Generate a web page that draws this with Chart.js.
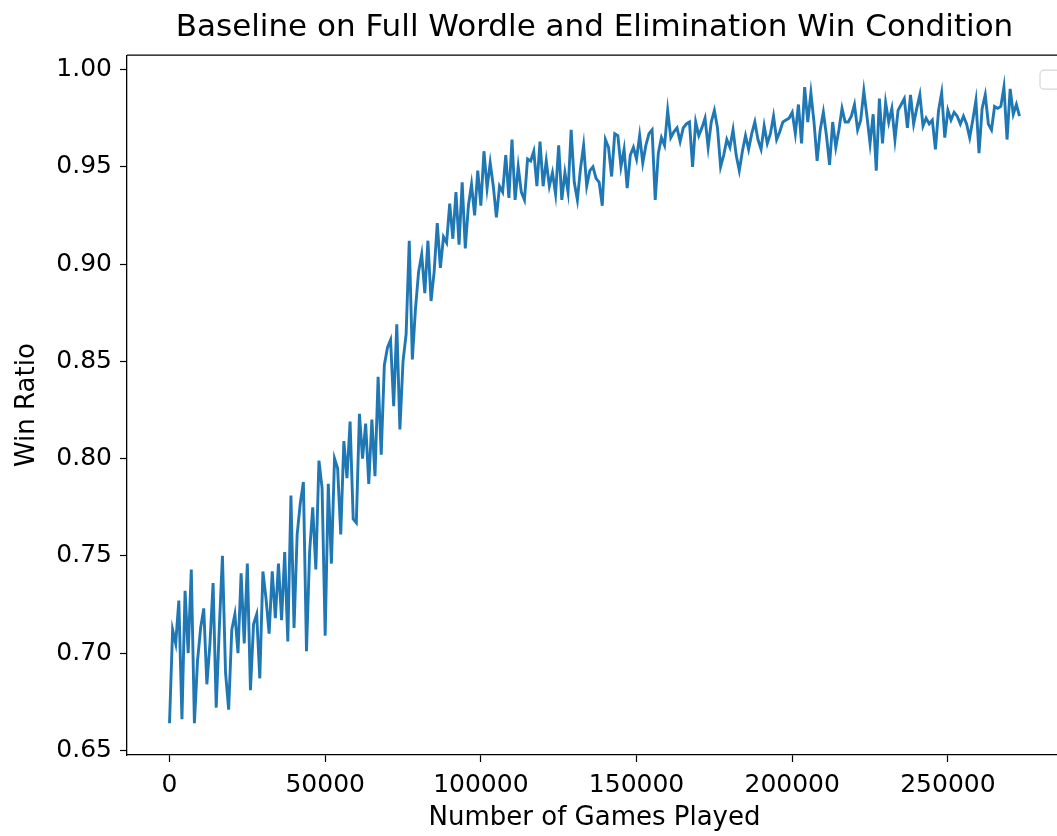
<!DOCTYPE html>
<html>
<head>
<meta charset="utf-8">
<script src="https://cdn.jsdelivr.net/npm/chart.js@4.4.1/dist/chart.umd.min.js"></script>
<style>
  html, body { margin: 0; padding: 0; background: #fff; overflow: hidden; }
  #wrap { width: 1075px; height: 836px; }
</style>
</head>
<body>
<div id="wrap"><canvas id="winChart" width="1075" height="836"></canvas></div>
<script>
// games played, one sample every 1000 games
var gameStep = 1000;

// win ratio, 0 .. 273000 games
var winRatio = [
  0.664, 0.712, 0.705, 0.727, 0.666, 0.732, 0.700, 0.743, 0.664, 0.696,
  0.713, 0.723, 0.684, 0.705, 0.736, 0.672, 0.713, 0.750, 0.690, 0.671,
  0.712, 0.720, 0.700, 0.741, 0.705, 0.746, 0.681, 0.715, 0.720, 0.687,
  0.742, 0.728, 0.710, 0.742, 0.718, 0.746, 0.717, 0.752, 0.706, 0.781,
  0.713, 0.761, 0.777, 0.788, 0.701, 0.752, 0.775, 0.743, 0.799, 0.785,
  0.709, 0.787, 0.746, 0.800, 0.795, 0.761, 0.809, 0.790, 0.819, 0.769,
  0.767, 0.823, 0.800, 0.818, 0.787, 0.820, 0.791, 0.842, 0.802, 0.848,
  0.857, 0.861, 0.827, 0.869, 0.815, 0.850, 0.864, 0.912, 0.851, 0.877,
  0.896, 0.905, 0.885, 0.912, 0.881, 0.896, 0.921, 0.898, 0.914, 0.911,
  0.931, 0.913, 0.937, 0.910, 0.942, 0.908, 0.930, 0.941, 0.925, 0.948,
  0.930, 0.958, 0.939, 0.952, 0.940, 0.924, 0.940, 0.937, 0.956, 0.934,
  0.964, 0.933, 0.950, 0.937, 0.933, 0.954, 0.953, 0.958, 0.940, 0.963,
  0.940, 0.953, 0.940, 0.947, 0.936, 0.961, 0.933, 0.947, 0.937, 0.969,
  0.942, 0.933, 0.949, 0.961, 0.940, 0.948, 0.950, 0.944, 0.942, 0.930,
  0.964, 0.960, 0.945, 0.967, 0.966, 0.950, 0.959, 0.939, 0.956, 0.960,
  0.954, 0.966, 0.952, 0.961, 0.967, 0.969, 0.933, 0.957, 0.965, 0.961,
  0.979, 0.965, 0.968, 0.970, 0.963, 0.970, 0.972, 0.973, 0.950, 0.973,
  0.966, 0.970, 0.975, 0.960, 0.973, 0.979, 0.970, 0.950, 0.956, 0.964,
  0.960, 0.969, 0.956, 0.948, 0.958, 0.966, 0.959, 0.967, 0.973, 0.964,
  0.959, 0.971, 0.962, 0.967, 0.976, 0.964, 0.968, 0.973, 0.974, 0.975,
  0.978, 0.967, 0.982, 0.962, 0.991, 0.973, 0.988, 0.973, 0.953, 0.969,
  0.978, 0.966, 0.951, 0.973, 0.960, 0.969, 0.980, 0.973, 0.973, 0.976,
  0.982, 0.969, 0.974, 0.989, 0.976, 0.962, 0.977, 0.948, 0.985, 0.962,
  0.983, 0.973, 0.980, 0.964, 0.979, 0.982, 0.985, 0.970, 0.987, 0.972,
  0.980, 0.987, 0.971, 0.975, 0.972, 0.974, 0.959, 0.979, 0.988, 0.965,
  0.979, 0.974, 0.978, 0.976, 0.972, 0.976, 0.972, 0.965, 0.974, 0.984,
  0.957, 0.980, 0.987, 0.972, 0.969, 0.981, 0.980, 0.981, 0.991, 0.964,
  0.990, 0.977, 0.982, 0.976
];

var xTickValues = [0, 50000, 100000, 150000, 200000, 250000];
var yTickValues = [0.65, 0.70, 0.75, 0.80, 0.85, 0.90, 0.95, 1.00];

var chartTitle = 'Baseline on Full Wordle and Elimination Win Condition';
var xTitle = 'Number of Games Played';
var yTitle = 'Win Ratio';

var points = [];
for (var i = 0; i < winRatio.length; i++) {
  points.push({ x: i * gameStep, y: winRatio[i] });
}

// matplotlib style 5% margins
var xLast = (winRatio.length - 1) * gameStep;
var yMin = Math.min.apply(null, winRatio);
var yMax = Math.max.apply(null, winRatio);
var xPad = xLast * 0.05;
var yPad = (yMax - yMin) * 0.05;

var fontFamily = '"DejaVu Sans", sans-serif';

// top/right spines plus the empty legend box
var frame = {
  id: 'frame',
  afterDraw: function(chart) {
    var a = chart.chartArea;
    var ctx = chart.ctx;
    ctx.save();
    ctx.strokeStyle = '#000';
    ctx.lineWidth = 1.3;
    ctx.beginPath();
    ctx.moveTo(a.left, a.top);
    ctx.lineTo(a.right, a.top);
    ctx.lineTo(a.right, a.bottom);
    ctx.stroke();

    ctx.strokeStyle = '#d6d6d6';
    ctx.lineWidth = 1.2;
    ctx.beginPath();
    ctx.roundRect(a.right - 22, a.top + 15, 20, 19, 4);
    ctx.stroke();
    ctx.restore();
  }
};

var ctx = document.getElementById('winChart').getContext('2d');
var myChart = new Chart(ctx, {
  type: 'line',
  data: {
    datasets: [{
      data: points,
      borderColor: '#1f77b4',
      borderWidth: 2.9,
      pointRadius: 0,
      tension: 0,
      fill: false
    }]
  },
  options: {
    responsive: false,
    animation: false,
    layout: { padding: { left: 0, right: 13, top: 0, bottom: 0 } },
    plugins: {
      legend: { display: false },
      tooltip: { enabled: false },
      title: {
        display: true,
        fullSize: false,
        text: chartTitle,
        color: '#000',
        font: { family: fontFamily, size: 31, weight: 'normal' },
        padding: { top: 9, bottom: 9 }
      }
    },
    scales: {
      x: {
        type: 'linear',
        min: -xPad,
        max: xLast + xPad,
        afterBuildTicks: function(scale) {
          scale.ticks = xTickValues.map(function(v) { return { value: v }; });
        },
        afterFit: function(scale) { scale.height = 81; },
        ticks: {
          color: '#000',
          font: { family: fontFamily, size: 25 },
          padding: 8,
          maxRotation: 0,
          callback: function(v) { return String(v); }
        },
        grid: { drawOnChartArea: false, drawTicks: true, tickLength: 7, tickColor: '#000', tickWidth: 1.2 },
        border: { display: true, color: '#000', width: 1.3 },
        title: {
          display: true,
          text: xTitle,
          color: '#000',
          font: { family: fontFamily, size: 26 },
          padding: { top: 0, bottom: 2 }
        }
      },
      y: {
        type: 'linear',
        min: yMin - yPad,
        max: yMax + yPad,
        afterBuildTicks: function(scale) {
          scale.ticks = yTickValues.map(function(v) { return { value: v }; });
        },
        afterFit: function(scale) { scale.width = 127; },
        ticks: {
          color: '#000',
          font: { family: fontFamily, size: 25 },
          padding: 8,
          callback: function(v) { return v.toFixed(2); }
        },
        grid: { drawOnChartArea: false, drawTicks: true, tickLength: 7, tickColor: '#000', tickWidth: 1.2 },
        border: { display: true, color: '#000', width: 1.3 },
        title: {
          display: true,
          text: yTitle,
          color: '#000',
          font: { family: fontFamily, size: 26 },
          padding: { top: 12, bottom: 0 }
        }
      }
    }
  },
  plugins: [frame]
});
</script>
</body>
</html>
